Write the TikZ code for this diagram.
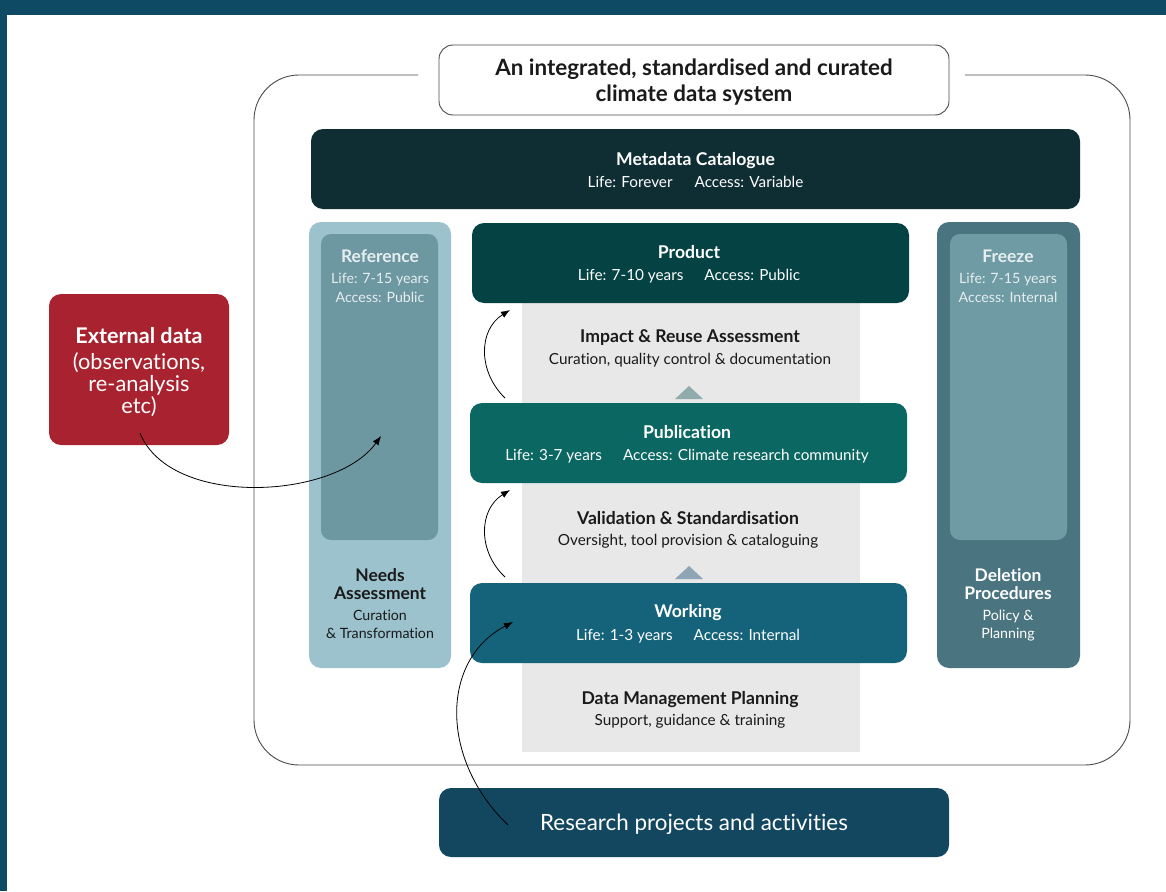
\documentclass[tikz,border=0pt]{standalone}
\usepackage{fontspec}
\setmainfont{Lato}[Ligatures=CommonOff]
\usetikzlibrary{arrows.meta}
\definecolor{stripC}{HTML}{0E4A63}
\definecolor{frameC}{HTML}{4A4A4A}
\definecolor{metaC}{HTML}{0F2E33}
\definecolor{productC}{HTML}{044243}
\definecolor{pubC}{HTML}{0A6761}
\definecolor{workC}{HTML}{14637B}
\definecolor{researchC}{HTML}{12475F}
\definecolor{refOutC}{HTML}{9BC2CD}
\definecolor{refInC}{HTML}{6D97A1}
\definecolor{frzOutC}{HTML}{4A7580}
\definecolor{frzInC}{HTML}{6F9BA4}
\definecolor{midC}{HTML}{E8E8E8}
\definecolor{extC}{HTML}{A8232F}
\definecolor{triA}{HTML}{8FABAB}
\definecolor{triB}{HTML}{8FA5B5}
\definecolor{inkC}{HTML}{1A1A1A}
\definecolor{paleC}{HTML}{E6EEF0}
\tikzset{
  blk/.style={rounded corners=12pt, inner sep=0pt, draw=none, minimum width=#1},
  hd/.style={font=\bfseries\fontsize{17.6}{20}\selectfont, inner sep=0pt, anchor=base},
  sub/.style={font=\fontsize{15.3}{18}\selectfont, inner sep=0pt, anchor=base},
  sidehd/.style={font=\bfseries\fontsize{17.4}{20}\selectfont, inner sep=0pt, anchor=base},
  sm/.style={font=\fontsize{14.2}{17}\selectfont, inner sep=0pt, anchor=base},
  link/.style={draw=black, line width=0.8pt, -{Latex[length=9pt,width=7pt]}},
}
\begin{document}
\begin{tikzpicture}[x=1pt,y=-1pt]
\useasboundingbox (0,0) rectangle (1166,891);
\fill[white] (0,0) rectangle (1166,891);
% page edge bands
\fill[stripC] (0,0) rectangle (1166,15);
\fill[stripC] (0,0) rectangle (7,891);

% outer frame with a gap for the title
\draw[frameC, line width=0.9pt, rounded corners=45pt]
  (418,75) -- (254,75) -- (254,765) -- (1130,765) -- (1130,75) -- (965,75);
\node[draw=frameC, line width=0.9pt, fill=white, rounded corners=14pt,
  minimum width=510pt, minimum height=70pt] (title) at (694,80) {};
\node[font=\bfseries\fontsize{22.4}{26}\selectfont, align=center, text=inkC, inner sep=0pt] (titletext) at (694,82)
  {An integrated, standardised and curated\\climate data system};

% metadata catalogue
\node[blk=769pt, fill=metaC, minimum height=80pt] (meta) at (695.5,169) {};
\node[hd, text=white] (metaT) at (695.5,165) {Metadata Catalogue};
\node[sub, text=white] (metaS) at (695.5,187) {Life: Forever\hspace{22pt}Access: Variable};

% central grey band
\fill[midC] (522,303) rectangle (860,752);
\node[hd, text=inkC] (impT) at (690,342) {Impact \& Reuse Assessment};
\node[sub, text=inkC] (impS) at (690,364) {Curation, quality control \& documentation};
\node[hd, text=inkC] (valT) at (688,524) {Validation \& Standardisation};
\node[sub, text=inkC] (valS) at (688,545) {Oversight, tool provision \& cataloguing};
\node[hd, text=inkC] (dmpT) at (690,704) {Data Management Planning};
\node[sub, text=inkC] (dmpS) at (690,725) {Support, guidance \& training};
\fill[triA] (675,399) -- (689,386) -- (703,399) -- cycle;
\fill[triB] (675,579) -- (689,566) -- (703,579) -- cycle;

% lifecycle stages
\node[blk=437pt, fill=productC, minimum height=80pt] (product) at (690.5,263) {};
\node[hd, text=white] (prodT) at (689,258) {Product};
\node[sub, text=white] (prodS) at (689,280) {Life: 7-10 years\hspace{21pt}Access: Public};
\node[blk=437pt, fill=pubC, minimum height=80pt] (pub) at (688.5,443) {};
\node[hd, text=white] (pubT) at (687,438) {Publication};
\node[sub, text=white] (pubS) at (687,460) {Life: 3-7 years\hspace{21pt}Access: Climate research community};
\node[blk=437pt, fill=workC, minimum height=80pt] (work) at (688.5,623) {};
\node[hd, text=white] (workT) at (688,617) {Working};
\node[sub, text=white] (workS) at (688,640) {Life: 1-3 years\hspace{21pt}Access: Internal};

% reference column
\node[blk=142pt, fill=refOutC, minimum height=446pt] (refOut) at (380,445) {};
\node[blk=117pt, fill=refInC, minimum height=306pt, rounded corners=10pt] (refIn) at (379.5,387) {};
\node[sidehd, text=paleC] (refT) at (380,262) {Reference};
\node[sm, text=paleC] (refL) at (380,283) {Life: 7-15 years};
\node[sm, text=paleC] (refA) at (380,302) {Access: Public};
\node[sidehd, text=inkC] (needs1) at (380,581) {Needs};
\node[sidehd, text=inkC] (needs2) at (380,599) {Assessment};
\node[sm, text=inkC] (needs3) at (380,620) {Curation};
\node[sm, text=inkC] (needs4) at (380,638) {\& Transformation};

% freeze column
\node[blk=143pt, fill=frzOutC, minimum height=446pt] (frzOut) at (1008.5,445) {};
\node[blk=117pt, fill=frzInC, minimum height=306pt, rounded corners=10pt] (frzIn) at (1008.5,387) {};
\node[sidehd, text=paleC] (frzT) at (1008,262) {Freeze};
\node[sm, text=paleC] (frzL) at (1008,283) {Life: 7-15 years};
\node[sm, text=paleC] (frzA) at (1008,302) {Access: Internal};
\node[sidehd, text=white] (del1) at (1008,581) {Deletion};
\node[sidehd, text=white] (del2) at (1008,599) {Procedures};
\node[sm, text=white] (del3) at (1008,620) {Policy \&};
\node[sm, text=white] (del4) at (1008,638) {Planning};

% external source
\node[blk=180pt, fill=extC, minimum height=151pt] (ext) at (139,369.5) {};
\node[font=\bfseries\fontsize{21.6}{25}\selectfont, text=white, inner sep=0pt, anchor=base] (extT) at (139,343) {External data};
\node[font=\fontsize{21.8}{22}\selectfont, text=white, align=center, inner sep=0pt, anchor=north] (extS) at (139,352)
  {(observations,\\re-analysis\\etc)};

% research projects
\node[blk=510pt, fill=researchC, minimum height=69pt] (research) at (694,822.5) {};
\node[font=\fontsize{22.4}{26}\selectfont, text=white, inner sep=0pt] (resT) at (694,824) {Research projects and activities};

% connector end points
\coordinate (e0) at (140,433);
\coordinate (e1) at (381,436);
\coordinate (p0) at (505,398);
\coordinate (p1) at (510,310);
\coordinate (w0) at (505,577);
\coordinate (w1) at (510,490);
\coordinate (r0) at (508,825);
\coordinate (r1) at (513,622);

\draw[link] (e0) .. controls (170,508) and (335,500) .. (e1);
\draw[link] (p0) .. controls (478,372) and (478,330) .. (p1);
\draw[link] (w0) .. controls (478,552) and (478,510) .. (w1);
\draw[link] (r0) .. controls (440,760) and (440,660) .. (r1);
\end{tikzpicture}
\end{document}
